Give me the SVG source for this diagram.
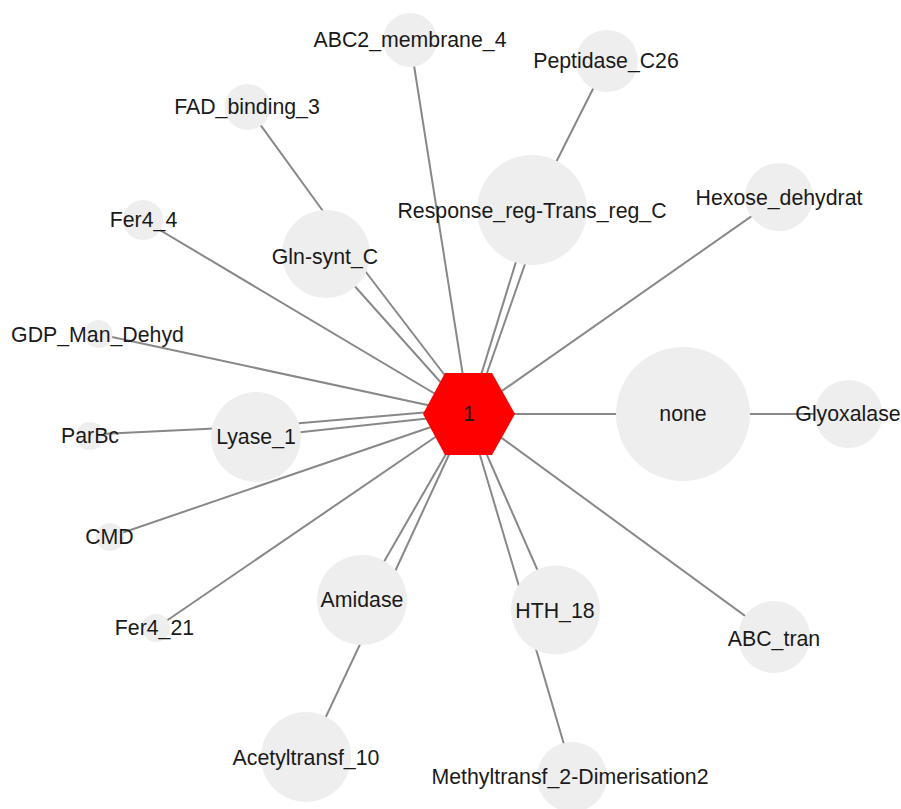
<svg xmlns="http://www.w3.org/2000/svg" width="901" height="809" viewBox="0 0 901 809">
<style>
.e{stroke:#888;stroke-width:2;fill:none}
.n{fill:#eeeeee}
.t{font-family:"Liberation Sans",Arial,sans-serif;font-size:21.3px;fill:#1a1a1a;text-anchor:middle}
</style>
<rect width="901" height="809" fill="#fff"/>
<g id="edges">
<line class="e" x1="469" y1="414" x2="410" y2="40"/>
<line class="e" x1="532" y1="210" x2="607" y2="61"/>
<line class="e" x1="469" y1="414" x2="532" y2="210"/>
<line class="e" x1="480" y1="393" x2="533" y2="241"/>
<line class="e" x1="248.5" y1="108.4" x2="328" y2="218"/>
<line class="e" x1="469" y1="414" x2="326" y2="254"/>
<line class="e" x1="450" y1="382" x2="362" y2="267"/>
<line class="e" x1="469" y1="414" x2="143" y2="220"/>
<line class="e" x1="469" y1="414" x2="98" y2="334"/>
<line class="e" x1="469" y1="414" x2="779" y2="197"/>
<line class="e" x1="469" y1="414" x2="683" y2="414"/>
<line class="e" x1="683" y1="414" x2="848" y2="414"/>
<line class="e" x1="469" y1="414" x2="256" y2="437"/>
<line class="e" x1="430" y1="412" x2="290" y2="424"/>
<line class="e" x1="90" y1="434.5" x2="225" y2="428"/>
<line class="e" x1="469" y1="414" x2="110" y2="537"/>
<line class="e" x1="469" y1="414" x2="156" y2="628"/>
<line class="e" x1="469" y1="414" x2="362" y2="600"/>
<line class="e" x1="453" y1="446" x2="392" y2="578"/>
<line class="e" x1="379" y1="604" x2="307.6" y2="755.6"/>
<line class="e" x1="469" y1="414" x2="555" y2="610"/>
<line class="e" x1="477" y1="445" x2="521" y2="593"/>
<line class="e" x1="526" y1="615" x2="573" y2="775"/>
<line class="e" x1="469" y1="414" x2="774" y2="637"/>
</g>
<g id="n-ABC2_membrane_4"><circle class="n" cx="410" cy="40" r="27"/><text class="t" x="410" y="47">ABC2_membrane_4</text></g>
<g id="n-Peptidase_C26"><circle class="n" cx="607" cy="61" r="31"/><text class="t" x="606" y="68">Peptidase_C26</text></g>
<g id="n-Response_reg-Trans_reg_C"><circle class="n" cx="532" cy="210" r="55"/><text class="t" x="532" y="218">Response_reg-Trans_reg_C</text></g>
<g id="n-FAD_binding_3"><circle class="n" cx="247.5" cy="107" r="23"/><text class="t" x="247" y="114">FAD_binding_3</text></g>
<g id="n-Gln-synt_C"><circle class="n" cx="326" cy="254" r="44"/><text class="t" x="325" y="264">Gln-synt_C</text></g>
<g id="n-Fer4_4"><circle class="n" cx="143" cy="220" r="20"/><text class="t" x="143.5" y="227">Fer4_4</text></g>
<g id="n-Hexose_dehydrat"><circle class="n" cx="779" cy="197" r="34"/><text class="t" x="779" y="205">Hexose_dehydrat</text></g>
<g id="n-GDP_Man_Dehyd"><circle class="n" cx="98.5" cy="334" r="14"/><text class="t" x="97.5" y="342">GDP_Man_Dehyd</text></g>
<g id="n-none"><circle class="n" cx="683" cy="414" r="67"/><text class="t" x="683" y="421">none</text></g>
<g id="n-Glyoxalase"><circle class="n" cx="848.5" cy="414" r="34"/><text class="t" x="848" y="421">Glyoxalase</text></g>
<g id="n-Lyase_1"><circle class="n" cx="256" cy="437" r="45"/><text class="t" x="256" y="444">Lyase_1</text></g>
<g id="n-ParBc"><circle class="n" cx="90" cy="436" r="14"/><text class="t" x="90" y="443">ParBc</text></g>
<g id="n-CMD"><circle class="n" cx="110" cy="537" r="14"/><text class="t" x="109.5" y="544">CMD</text></g>
<g id="n-Fer4_21"><circle class="n" cx="156" cy="628" r="14"/><text class="t" x="154.5" y="635">Fer4_21</text></g>
<g id="n-Amidase"><circle class="n" cx="362" cy="600" r="45"/><text class="t" x="362" y="607">Amidase</text></g>
<g id="n-HTH_18"><circle class="n" cx="555.5" cy="610" r="44.5"/><text class="t" x="555" y="618">HTH_18</text></g>
<g id="n-Acetyltransf_10"><circle class="n" cx="306" cy="757" r="45"/><text class="t" x="306" y="765">Acetyltransf_10</text></g>
<g id="n-Methyltransf_2-Dimerisation2"><circle class="n" cx="572" cy="777" r="35"/><text class="t" x="570" y="784">Methyltransf_2-Dimerisation2</text></g>
<g id="n-ABC_tran"><circle class="n" cx="774" cy="637" r="36"/><text class="t" x="774" y="646">ABC_tran</text></g>
<g id="n-1"><polygon points="423,414 445,373 492,373 515,414 492,455 445,455" fill="#ff0000"/><text class="t" x="469" y="421">1</text></g>
</svg>
